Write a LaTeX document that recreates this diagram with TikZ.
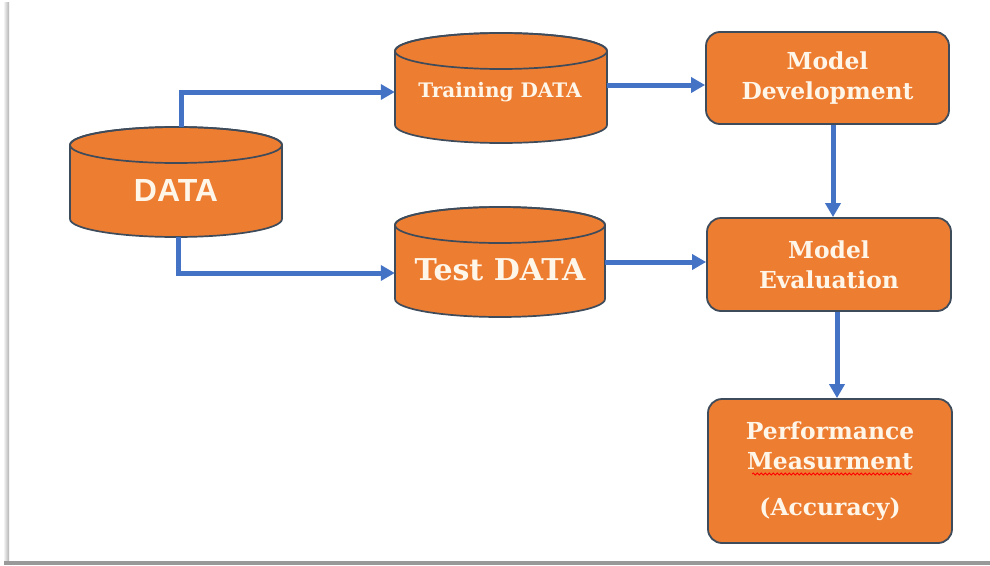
\documentclass[tikz,border=0pt]{standalone}
\usepackage{fontspec}
\usetikzlibrary{arrows.meta,calc,decorations.pathmorphing}
\newfontfamily\boxfont{DejaVu Serif}[BoldFont={DejaVu Serif Bold}]
\newfontfamily\datafont{Liberation Sans}
\definecolor{org}{HTML}{ED7D31}
\definecolor{edgec}{HTML}{3E4B5B}
\definecolor{arrowblue}{HTML}{4472C4}
\definecolor{cream}{HTML}{FFF6EA}
\newcommand\drawcyl[5]{%
  \filldraw[cylfill] (#1,#3+#5) -- (#1,#4-#5)
    arc[start angle=180,end angle=0,x radius={(#2-#1)/2},y radius=#5]
    -- (#2,#3+#5)
    arc[start angle=0,end angle=-180,x radius={(#2-#1)/2},y radius=#5] -- cycle;
  \draw[cylfill,fill=none] ({(#1+#2)/2},#3+#5) ellipse[x radius={(#2-#1)/2},y radius=#5];}
\tikzset{
  cylfill/.style={fill=org,draw=edgec,line width=1.7pt},
  cylbox/.style={draw=none,inner sep=0pt,rectangle},
  ctext/.style={text=cream,inner sep=0pt},
  mbox/.style={rectangle,rounded corners=14pt,fill=org,draw=edgec,line width=1.8pt,
    text=cream,align=center,font=\boxfont\bfseries\fontsize{23.4}{30}\selectfont},
  flow/.style={draw=arrowblue,line width=5pt,-{Triangle[length=14pt,width=15pt]}}
}
\begin{document}
\begin{tikzpicture}[x=1pt,y=1pt,yscale=-1]
\useasboundingbox (0,0) rectangle (990,565);
\fill[white] (0,0) rectangle (990,565);
\shade[left color=white,right color=black!30] (3,2) rectangle (9,561);
\fill[black!40] (4,561) rectangle (990,565);

% cylinders
\drawcyl{70}{282}{127}{237}{18}
\drawcyl{395}{607}{33}{143}{18}
\drawcyl{395}{605}{207}{317}{18}
\node[cylbox,minimum width=212pt,minimum height=110pt] (data) at (176,182) {};
\node[cylbox,minimum width=212pt,minimum height=110pt] (train) at (501,88) {};
\node[cylbox,minimum width=210pt,minimum height=110pt] (test) at (500,262) {};
\node[ctext,font=\datafont\bfseries\fontsize{32}{32}\selectfont] (dataT) at (176,190) {DATA};
\node[ctext,font=\boxfont\bfseries\fontsize{20}{20}\selectfont] (trainT) at (500,92) {Training DATA};
\node[ctext,font=\boxfont\bfseries\fontsize{30}{30}\selectfont] (testT) at (500,270) {Test DATA};

% boxes
\node[mbox,minimum width=243pt,minimum height=92pt] (dev) at (827.5,78) {Model\\Development};
\node[mbox,minimum width=244pt,minimum height=93pt] (eval) at (829,264.5) {Model\\Evaluation};
\node[mbox,minimum width=244pt,minimum height=144pt] (perf) at (830,471) {Performance\\Measurment\\[16pt](Accuracy)};
\draw[red,line width=0.8pt,decorate,decoration={snake,amplitude=1pt,segment length=4pt}] (752,474) -- (912,474);

% connectors
\draw[flow] ($(data.north)+(5,0)$) |- ($(train.west)+(0,4)$);
\draw[flow] ($(data.south)+(2,0)$) |- ($(test.west)+(0,11)$);
\coordinate (tr) at ($(train.east)+(0,-3)$);
\draw[flow] (tr) -- (tr -| dev.west);
\draw[flow] (test.east) -- (test.east -| eval.west);
\coordinate (ds) at ($(dev.south)+(5.5,0)$);
\draw[flow] (ds) -- (ds |- eval.north);
\coordinate (es) at ($(eval.south)+(8,0)$);
\draw[flow] (es) -- (es |- perf.north);
\end{tikzpicture}
\end{document}
